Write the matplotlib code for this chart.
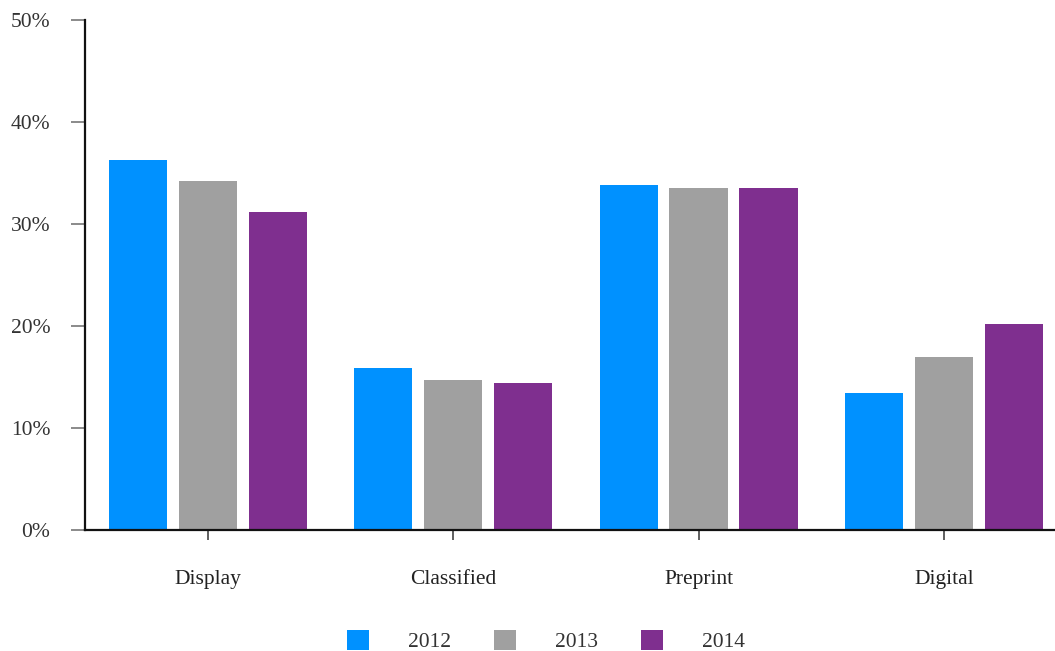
import numpy as np
import matplotlib
matplotlib.use("Agg")
import matplotlib.pyplot as plt

# values (percent)
categories = ["Display", "Classified", "Preprint", "Digital"]
years = ["2012", "2013", "2014"]
share_2012 = [36.3, 15.9, 33.8, 13.4]
share_2013 = [34.2, 14.7, 33.5, 17.0]
share_2014 = [31.2, 14.4, 33.5, 20.2]
colors = ["#0091FF", "#A0A0A0", "#7F2F8F"]

plt.rcParams["font.family"] = ["Liberation Serif", "DejaVu Serif"]

fig = plt.figure(figsize=(10.55, 6.51), dpi=100)
ax = fig.add_axes([85 / 1055, 121 / 651, 970 / 1055, 510 / 651])

x = np.arange(len(categories))
pitch = 0.285
width = 0.237
for i, (vals, yr) in enumerate(zip([share_2012, share_2013, share_2014], years)):
    ax.bar(x + (i - 1) * pitch, vals, width, color=colors[i], label=yr)

ax.set_xlim(-0.501, 3.453)
ax.set_ylim(0, 50)
ax.set_yticks([0, 10, 20, 30, 40, 50])
ax.set_yticklabels([f"{v}%" for v in [0, 10, 20, 30, 40, 50]])
ax.set_xticks(x)
ax.set_xticklabels(categories)

for s in ["top", "right"]:
    ax.spines[s].set_visible(False)
for s in ["left", "bottom"]:
    ax.spines[s].set_color("#111111")
    ax.spines[s].set_linewidth(1.6)

ax.tick_params(axis="y", length=10, width=1.2, color="#777777", pad=15,
               labelsize=15.5, labelcolor="#333333")
ax.tick_params(axis="x", length=7, width=1.2, color="#444444", pad=22,
               labelsize=15.5, labelcolor="#222222")

leg = fig.legend(loc="center", bbox_to_anchor=(546 / 1055, 10 / 651), ncol=3,
                 frameon=False, fontsize=15.5, handlelength=1.03, handleheight=1.03,
                 handletextpad=1.8, columnspacing=2.0, borderpad=0)
for t in leg.get_texts():
    t.set_color("#333333")

fig.savefig("out.png", dpi=100)
